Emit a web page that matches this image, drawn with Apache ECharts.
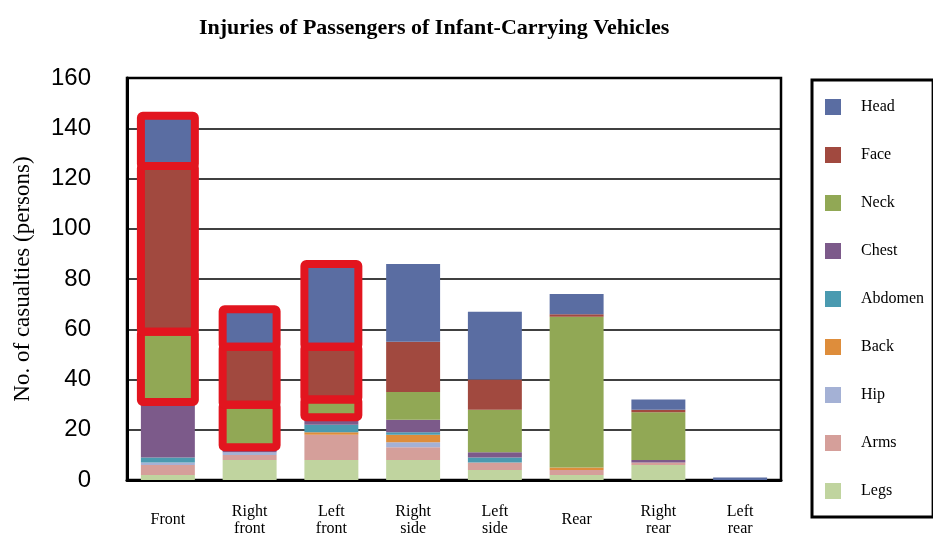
<!DOCTYPE html>
<html>
<head>
<meta charset="utf-8">
<script src="https://cdn.jsdelivr.net/npm/echarts@6/dist/echarts.min.js"></script>
<style>html,body{margin:0;padding:0;background:#fff;}#c{width:933px;height:538px;}</style>
</head>
<body>
<div id="c"></div>
<script>
var categories = ['Front', 'Right\nfront', 'Left\nfront', 'Right\nside', 'Left\nside', 'Rear', 'Right\nrear', 'Left\nrear'];
var partNames = ['Head', 'Face', 'Neck', 'Chest', 'Abdomen', 'Back', 'Hip', 'Arms', 'Legs'];
var head    = [20, 15, 33, 31, 27, 8, 4, 1];
var face    = [66, 23, 21, 20, 12, 1, 1, 0];
var neck    = [28, 17, 7, 11, 17, 60, 19, 0];
var chest   = [22, 2, 3, 5, 2, 0, 1, 0];
var abdomen = [2, 0, 3, 1, 2, 0, 0, 0];
var back    = [0, 0, 1, 3, 0, 1, 0, 0];
var hip     = [1, 1, 0, 2, 0, 0, 0, 0];
var arms    = [4, 2, 10, 5, 3, 2, 1, 0];
var legs    = [2, 8, 8, 8, 4, 2, 6, 0];
var yTicks = [0, 20, 40, 60, 80, 100, 120, 140, 160];
var highlightedCats = [0, 1, 2];
var highlightedParts = ['Head', 'Face', 'Neck'];

var values = {Head: head, Face: face, Neck: neck, Chest: chest, Abdomen: abdomen, Back: back, Hip: hip, Arms: arms, Legs: legs};
var colors = {Head: '#5a6da2', Face: '#a1493f', Neck: '#91a855', Chest: '#7c5a8a', Abdomen: '#4a9ab0', Back: '#de8d3b', Hip: '#a4b1d5', Arms: '#d59f9a', Legs: '#c0d49f'};
var BAR_FRACTION = 0.66;

var stackOrder = partNames.slice().reverse();
var series = stackOrder.map(function (name) {
  return {
    name: name,
    type: 'bar',
    stack: 'total',
    barCategoryGap: '34%',
    itemStyle: {color: colors[name]},
    data: values[name].slice()
  };
});

// red annotation boxes around highlighted stacked segments
var boxData = [];
highlightedCats.forEach(function (ci) {
  var cum = 0;
  stackOrder.forEach(function (name) {
    var v = values[name][ci];
    if (highlightedParts.indexOf(name) >= 0) boxData.push([ci, cum, cum + v]);
    cum += v;
  });
});
series.push({
  name: 'highlight',
  type: 'custom',
  z: 5,
  silent: true,
  data: boxData,
  renderItem: function (params, api) {
    var c = api.value(0);
    var lo = api.coord([c, api.value(1)]);
    var hi = api.coord([c, api.value(2)]);
    var w = api.size([1, 0])[0] * BAR_FRACTION;
    return {
      type: 'rect',
      shape: {x: lo[0] - w / 2, y: hi[1], width: w, height: lo[1] - hi[1], r: 2},
      style: {fill: 'none', stroke: '#e2151f', lineWidth: 8, lineJoin: 'round'}
    };
  }
});

var chart = echarts.init(document.getElementById('c'), null, {renderer: 'canvas'});
chart.setOption({
  animation: false,
  backgroundColor: '#ffffff',
  title: {
    text: 'Injuries of Passengers of Infant-Carrying Vehicles',
    left: 194, top: 12,
    textStyle: {fontFamily: 'Liberation Serif', fontWeight: 'bold', fontSize: 22, color: '#000'}
  },
  legend: {
    orient: 'vertical',
    left: 812, top: 80,
    data: partNames,
    icon: 'rect',
    itemWidth: 16, itemHeight: 16, itemGap: 32,
    padding: [19, 9, 18, 13],
    borderColor: '#000', borderWidth: 3,
    textStyle: {fontFamily: 'Liberation Serif', fontSize: 16, color: '#000', padding: [0, 0, 0, 15]}
  },
  grid: {left: 127, right: 152, top: 78, bottom: 58, show: true, borderColor: '#000', borderWidth: 2.5, containLabel: false},
  xAxis: {
    type: 'category',
    data: categories,
    axisLine: {lineStyle: {color: '#000', width: 3}},
    axisTick: {inside: true, length: 7, lineStyle: {color: '#000', width: 2}},
    axisLabel: {interval: 0, margin: 40, verticalAlign: 'middle', lineHeight: 17, fontFamily: 'Liberation Serif', fontSize: 16, color: '#000'}
  },
  yAxis: {
    type: 'value',
    min: yTicks[0], max: yTicks[yTicks.length - 1], interval: yTicks[1] - yTicks[0],
    name: 'No. of casualties (persons)',
    nameLocation: 'middle', nameGap: 93, nameRotate: 90,
    nameTextStyle: {fontFamily: 'Liberation Serif', fontSize: 23, color: '#000'},
    axisLine: {show: true, lineStyle: {color: '#000', width: 3}},
    axisTick: {show: false},
    splitLine: {lineStyle: {color: '#000', width: 1.5}},
    axisLabel: {margin: 36, fontFamily: 'Liberation Sans, Arial', fontSize: 24, color: '#000'}
  },
  series: series
});
</script>
</body>
</html>
